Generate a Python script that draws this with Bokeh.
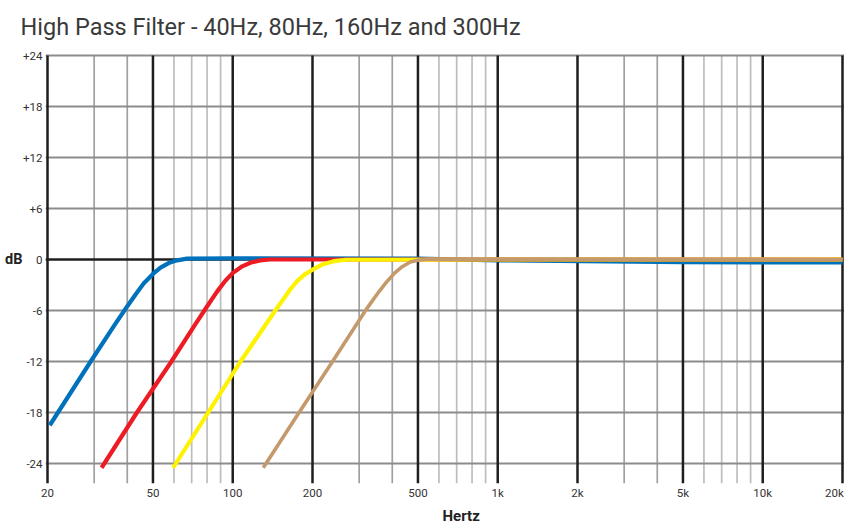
from bokeh.plotting import figure
from bokeh.models import Range1d, FixedTicker, Title, LinearAxis
from bokeh.embed import file_html
from bokeh.resources import INLINE

# ---- data ----
title_text = "High Pass Filter - 40Hz, 80Hz, 160Hz and 300Hz"
x_title = "Hertz"
y_title = "dB"

x_ticks = [20, 50, 100, 200, 500, 1000, 2000, 5000, 10000]
x_tick_labels = ["20", "50", "100", "200", "500", "1k", "2k", "5k", "10k"]
x_last_tick = 20000
x_last_label = "20k"
y_ticks = [-24, -18, -12, -6, 0, 6, 12, 18, 24]
y_tick_labels = ["-24", "-18", "-12", "-6", "0", "+6", "+12", "+18", "+24"]

major_f = [20, 50, 100, 200, 500, 1000, 2000, 5000, 10000, 20000]
minor_f_dark = [30, 40, 300, 400, 3000, 4000]
minor_f_light = [60, 70, 80, 90, 600, 700, 800, 900, 6000, 7000, 8000, 9000]
grid_db = [-24, -18, -12, -6, 6, 12, 18, 24]
zero_db = 0

blue_f = [20.4, 29.1, 36.0, 40.0, 43.6, 46.2, 50.0, 53.4, 57.3, 61.7, 67.2,
          100, 500, 1000, 5000, 10000, 20000]
blue_db = [-19.5, -12.0, -7.6, -5.5, -3.85, -2.8, -1.7, -0.95, -0.42, -0.1, 0.1,
           0.15, 0.1, -0.1, -0.3, -0.35, -0.35]

red_f = [32.0, 43.5, 58.7, 72.0, 80.1, 87.4, 93.8, 99.9, 108.6, 116.6, 127, 138, 1000, 20000]
red_db = [-24.5, -18.0, -12.0, -7.7, -5.5, -3.75, -2.5, -1.6, -0.8, -0.38, -0.1, 0.0, 0.0, 0.0]

yellow_f = [59.6, 80.8, 107, 144.8, 155.8, 165, 175, 187, 200, 217.6, 240.6, 268, 1000, 20000]
yellow_db = [-24.5, -18.0, -12.0, -6.0, -4.6, -3.5, -2.55, -1.75, -1.2, -0.6, -0.2, -0.03, 0.0, 0.0]

tan_f = [130.4, 178, 238, 317, 327, 356, 377, 408, 436, 468, 504, 549, 1000, 20000]
tan_db = [-24.5, -18.0, -12.0, -6.0, -5.4, -3.8, -2.8, -1.6, -0.85, -0.3, -0.05, 0.05, 0.05, 0.0]

# ---- layout (pixel scale of the reference) ----
PX_DEC = 265.0
PX_DB = 8.5
ZERO_PX = 259    # pixel row of 0 dB
LEFT_PX = 47     # pixel column of 20 Hz
FRAME_LEFT = 45
FRAME_TOP = 42
FRAME_BOTTOM = 483

def px_to_f(px):
    return 20 * 10 ** ((px - LEFT_PX) / PX_DEC)

def py_to_db(py):
    return (ZERO_PX - py) / PX_DB

x_start = px_to_f(FRAME_LEFT)
x_end = px_to_f(844)
y_start = py_to_db(FRAME_BOTTOM)
y_end = py_to_db(FRAME_TOP)
grid_top = y_ticks[-1]
x_last_pos = px_to_f(834)  # "20k" label nudged inside the canvas edge

font = "Roboto"
label_color = "#333333"

p = figure(width=844, height=526, x_axis_type="log",
           x_range=Range1d(x_start, x_end), y_range=Range1d(y_start, y_end),
           output_backend="svg", toolbar_location=None,
           min_border_left=FRAME_LEFT, min_border_right=0,
           min_border_top=FRAME_TOP, min_border_bottom=526 - FRAME_BOTTOM)
p.outline_line_color = None
p.background_fill_color = "white"
p.border_fill_color = "white"
p.grid.visible = False

p.title.text = title_text
p.title.align = "left"
p.title.offset = 20 - FRAME_LEFT
p.title.vertical_align = "top"
p.title.standoff = 0
p.title.text_font = font
p.title.text_font_size = "23.5px"
p.title.text_font_style = "normal"
p.title.text_color = "#3a3a3a"

# axes
xa = p.xaxis[0]
xa.ticker = FixedTicker(ticks=x_ticks + [x_last_pos])
overrides = {t: l for t, l in zip(x_ticks, x_tick_labels)}
overrides[x_last_pos] = x_last_label
xa.major_label_overrides = overrides
ya = p.yaxis[0]
ya.ticker = FixedTicker(ticks=y_ticks)
ya.major_label_overrides = {t: l for t, l in zip(y_ticks, y_tick_labels)}

db_axis = LinearAxis(ticker=FixedTicker(ticks=[zero_db]),
                     major_label_overrides={zero_db: y_title})
p.add_layout(db_axis, "left")

for ax in (xa, ya, db_axis):
    ax.axis_line_color = None
    ax.major_tick_line_color = None
    ax.minor_tick_line_color = None
    ax.major_tick_out = 0
    ax.major_tick_in = 0
    ax.major_label_text_font = font
    ax.major_label_text_font_size = "11.5px"
    ax.major_label_text_color = label_color
xa.major_label_standoff = 2
ya.major_label_standoff = 3
db_axis.major_label_text_font_size = "14.5px"
db_axis.major_label_text_font_style = "bold"
db_axis.major_label_text_color = "#222222"
db_axis.major_label_standoff = -2

p.add_layout(Title(text=x_title, align="left", offset=397, text_font=font,
                   text_font_size="15px", text_font_style="bold",
                   text_color="#222222", standoff=4), "below")

# grid lines
p.segment(x0=minor_f_light, x1=minor_f_light, y0=y_start, y1=grid_top,
          line_color="#bdbdbd", line_width=1.7)
p.segment(x0=minor_f_dark, x1=minor_f_dark, y0=y_start, y1=grid_top,
          line_color="#a0a0a0", line_width=1.7)
p.segment(x0=x_start, x1=x_end, y0=grid_db, y1=grid_db,
          line_color="#8c8c8c", line_width=2)
p.segment(x0=major_f, x1=major_f, y0=y_start, y1=grid_top,
          line_color="#1e1e1e", line_width=2.5)
p.segment(x0=x_start, x1=major_f[-1], y0=zero_db, y1=zero_db,
          line_color="#1e1e1e", line_width=2.5)

# curves
for f, db, c, w in [(blue_f, blue_db, "#0072BC", 4.2),
                    (red_f, red_db, "#ED1C24", 4.2),
                    (yellow_f, yellow_db, "#FFF200", 4.2),
                    (tan_f, tan_db, "#C49A6C", 3.6)]:
    p.line(f, db, line_color=c, line_width=w, line_join="round")

open("out.html", "w").write(file_html(p, INLINE))
